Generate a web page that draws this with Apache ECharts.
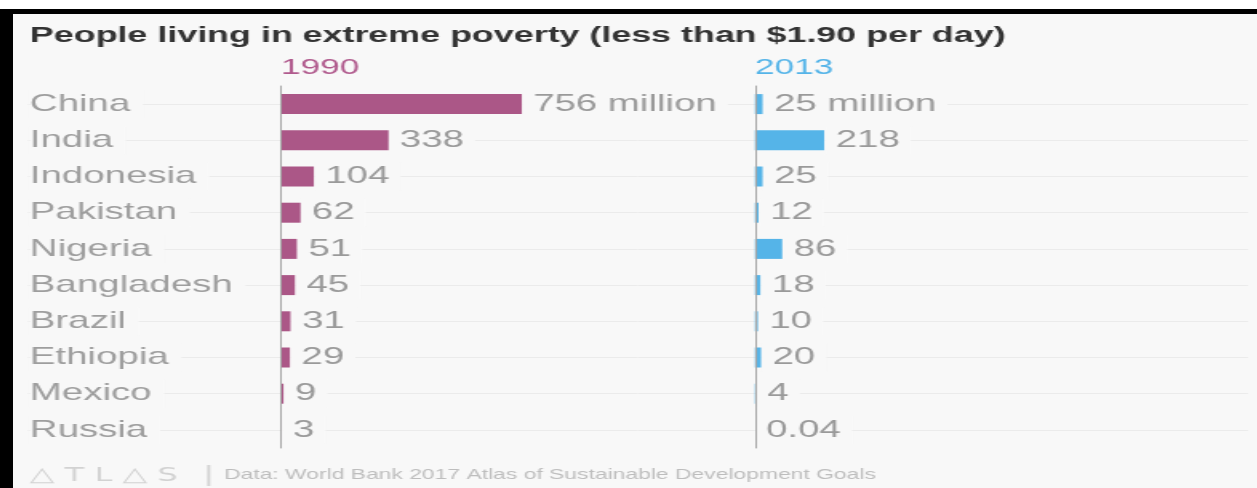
<!DOCTYPE html>
<html>
<head>
<meta charset="utf-8">
<script src="https://cdn.jsdelivr.net/npm/echarts@6/dist/echarts.min.js"></script>
<style>
  html, body { margin: 0; padding: 0; background: #ffffff; overflow: hidden; width: 1257px; height: 488px; }
  #frame { position: absolute; left: 0; top: 9px; width: 1257px; height: 479px; box-sizing: border-box;
           background: #f8f8f8; border-top: 5px solid #000; border-left: 13px solid #000; }
  #chart { position: absolute; left: 13px; top: 14px; width: 778px; height: 474px;
           transform: scaleX(1.6); transform-origin: 0 0; }
</style>
</head>
<body>
<div id="frame"></div>
<div id="chart"></div>
<script>
// ---- data ----
const titleText = 'People living in extreme poverty (less than $1.90 per day)';
const categories = ['China', 'India', 'Indonesia', 'Pakistan', 'Nigeria', 'Bangladesh', 'Brazil', 'Ethiopia', 'Mexico', 'Russia'];
const years = ['1990', '2013'];
const values1990 = [756, 338, 104, 62, 51, 45, 31, 29, 9, 3];
const values2013 = [25, 218, 25, 12, 86, 18, 10, 20, 4, 0.04];
const unitSuffix = ' million';
const logoText = '\u25B3 T L \u25B3 S';
const sourceText = 'Data: World Bank 2017 Atlas of Sustainable Development Goals';

// ---- style ----
const FONT = "'Liberation Sans', Arial, sans-serif";
const BG = '#f8f8f8';
const colors = ['#ab5787', '#55b4e8'];
const gridTop = 72, gridHeight = 362;
const axisMax = 1400;
const panelLeft = [167.5, 463.75];
const panelWidth = 279;

const chart = echarts.init(document.getElementById('chart'));

function valueLabel() {
  return {
    show: true,
    position: 'right',
    distance: 0,
    color: '#9a9a9a',
    fontSize: 24,
    fontFamily: FONT,
    backgroundColor: BG,
    padding: [2, 7, 2, 7],
    formatter: p => p.dataIndex === 0 ? p.value + unitSuffix : String(p.value)
  };
}

const option = {
  backgroundColor: 'transparent',
  animation: false,
  textStyle: { fontFamily: FONT },
  title: {
    text: titleText,
    left: 10.6,
    top: 11,
    padding: 0,
    textStyle: { fontSize: 22.4, fontWeight: 'bold', color: '#333333', fontFamily: FONT }
  },
  grid: [
    { left: 9.4, top: gridTop, width: 762.5, height: gridHeight },
    { left: panelLeft[0], top: gridTop, width: panelWidth, height: gridHeight },
    { left: panelLeft[1], top: gridTop, width: panelWidth, height: gridHeight }
  ],
  xAxis: [
    { gridIndex: 0, type: 'value', min: 0, max: 1, show: false },
    { gridIndex: 1, type: 'value', min: 0, max: axisMax, show: false },
    { gridIndex: 2, type: 'value', min: 0, max: axisMax, show: false }
  ],
  yAxis: [
    { gridIndex: 0, type: 'category', data: categories, inverse: true, show: false },
    {
      gridIndex: 1, type: 'category', data: categories, inverse: true, z: 5,
      axisLine: { show: true, lineStyle: { color: '#a6a6a6', width: 1 } },
      axisTick: { show: false },
      splitLine: { show: false },
      axisLabel: {
        show: true, margin: 156.9, align: 'left', fontSize: 24, color: '#9e9e9e',
        fontFamily: FONT, backgroundColor: BG, padding: [2, 8, 2, 0]
      }
    },
    {
      gridIndex: 2, type: 'category', data: categories, inverse: true, z: 5,
      axisLine: { show: true, lineStyle: { color: '#a6a6a6', width: 1 } },
      axisTick: { show: false },
      splitLine: { show: false },
      axisLabel: { show: false }
    }
  ],
  graphic: [
    { type: 'text', left: panelLeft[0], top: 43, style: { text: years[0], fontSize: 22, fill: '#b05a8d', fontFamily: FONT } },
    { type: 'text', left: panelLeft[1], top: 43, style: { text: years[1], fontSize: 22, fill: '#55b4e8', fontFamily: FONT } },
    { type: 'text', left: 10.6, top: 452, style: { text: logoText, fontSize: 20, fill: '#d2d2d2', fontFamily: "'DejaVu Sans', sans-serif" } },
    { type: 'text', left: 119.4, top: 450, style: { text: '|', fontSize: 22, fill: '#d2d2d2', fontFamily: FONT } },
    { type: 'text', left: 131.9, top: 454, style: { text: sourceText, fontSize: 14.3, fill: '#bdbdbd', fontFamily: FONT } }
  ],
  series: [
    {
      type: 'line', xAxisIndex: 0, yAxisIndex: 0, z: 0,
      data: categories.map(() => null), showSymbol: false, silent: true,
      markLine: {
        z: 0, silent: true, symbol: 'none', label: { show: false },
        lineStyle: { color: '#ebebeb', type: 'solid', width: 1 },
        data: categories.map((c, i) => ({ yAxis: i }))
      }
    },
    {
      name: years[0], type: 'bar', xAxisIndex: 1, yAxisIndex: 1, barWidth: 20, z: 2,
      itemStyle: { color: colors[0] }, data: values1990, label: valueLabel()
    },
    {
      name: years[1], type: 'bar', xAxisIndex: 2, yAxisIndex: 2, barWidth: 20, z: 2,
      itemStyle: { color: colors[1] }, data: values2013, label: valueLabel()
    }
  ]
};
chart.setOption(option);
</script>
</body>
</html>
